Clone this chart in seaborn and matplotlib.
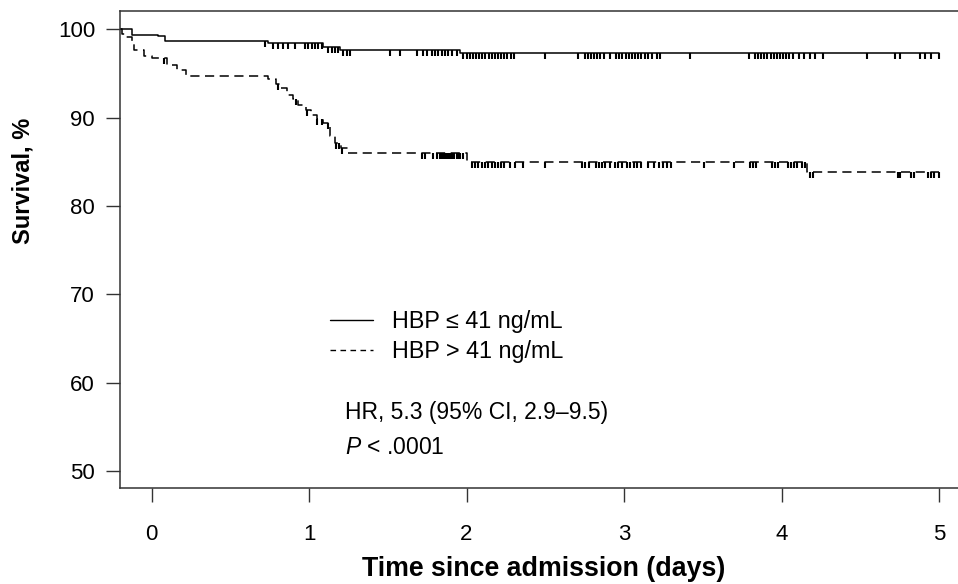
import numpy as np
import pandas as pd
import matplotlib
matplotlib.use('Agg')
import matplotlib.pyplot as plt
from matplotlib.lines import Line2D
import seaborn as sns

# Kaplan-Meier steps (time in days, survival in %)
low_time = [-0.2, -0.126, 0.043, 0.086, 0.742, 1.091, 1.197, 1.959, 5.0]
low_surv = [100, 99.4, 99.2, 98.7, 98.45, 98.0, 97.62, 97.32, 97.32]
low_censor = [0.72, 0.774, 0.805, 0.837, 0.869, 0.911, 0.975, 0.996, 1.017, 1.038,
              1.059, 1.08, 1.123, 1.144, 1.165, 1.186, 1.218, 1.239, 1.26, 1.514,
              1.578, 1.684, 1.726, 1.747, 1.779, 1.8, 1.821, 1.842, 1.863, 1.884,
              1.906, 1.938, 1.98, 2.0, 2.02, 2.04, 2.06, 2.08, 2.10, 2.12, 2.14,
              2.16, 2.18, 2.20, 2.22, 2.24, 2.26, 2.28, 2.30, 2.50, 2.71, 2.75,
              2.77, 2.79, 2.81, 2.83, 2.85, 2.87, 2.91, 2.95, 2.97, 2.99, 3.01,
              3.03, 3.05, 3.07, 3.09, 3.11, 3.13, 3.15, 3.18, 3.21, 3.23, 3.42,
              3.79, 3.83, 3.85, 3.87, 3.89, 3.91, 3.93, 3.95, 3.97, 3.99, 4.01,
              4.03, 4.05, 4.07, 4.11, 4.14, 4.18, 4.21, 4.26, 4.54, 4.72, 4.75,
              4.88, 4.91, 4.95, 5.0]

high_time = [-0.2, -0.185, -0.165, -0.125, -0.11, -0.05, 0.0, 0.10, 0.16, 0.22,
             0.74, 0.79, 0.82, 0.86, 0.90, 0.93, 0.98, 1.01, 1.05, 1.09, 1.13,
             1.165, 1.20, 1.25, 2.0, 4.16, 5.0]
high_surv = [100, 99.5, 99.1, 98.3, 97.7, 97.0, 96.7, 96.0, 95.4, 94.75,
             94.4, 93.8, 93.4, 92.6, 92.1, 91.4, 90.9, 90.3, 89.9, 89.4, 87.9,
             87.1, 86.6, 86.05, 85.0, 83.8, 83.8]
high_censor = [0.08, 0.80, 0.92, 0.99, 1.05, 1.08, 1.12, 1.17, 1.19, 1.21, 1.715,
               1.737, 1.789, 1.811, 1.83, 1.845, 1.86, 1.87, 1.88, 1.89, 1.90,
               1.91, 1.92, 1.94, 1.948, 1.959, 1.98, 2.033, 2.054, 2.075, 2.096,
               2.117, 2.138, 2.16, 2.18, 2.20, 2.22, 2.24, 2.276, 2.308, 2.36,
               2.50, 2.73, 2.75, 2.78, 2.82, 2.84, 2.86, 2.88, 2.91, 2.94, 2.96,
               2.99, 3.02, 3.04, 3.06, 3.08, 3.11, 3.15, 3.19, 3.22, 3.25, 3.27,
               3.30, 3.51, 3.70, 3.80, 3.82, 3.84, 3.94, 3.96, 3.98, 4.04, 4.06,
               4.08, 4.10, 4.13, 4.15, 4.18, 4.20, 4.74, 4.75, 4.82, 4.84, 4.93,
               4.95, 4.97, 5.0]

labels = ['HBP \u2264 41 ng/mL', 'HBP > 41 ng/mL']
x_ticks = [0, 1, 2, 3, 4, 5]
y_ticks = [50, 60, 70, 80, 90, 100]

sns.set_style('ticks')
plt.rcParams['font.family'] = ['Liberation Sans', 'DejaVu Sans']
plt.rcParams['mathtext.fontset'] = 'custom'
plt.rcParams['mathtext.rm'] = 'Liberation Sans'
plt.rcParams['mathtext.it'] = 'Liberation Sans:italic'
plt.rcParams['text.color'] = 'black'
plt.rcParams['axes.labelcolor'] = 'black'
plt.rcParams['xtick.color'] = 'black'
plt.rcParams['ytick.color'] = 'black'


def censor_y(times, surv, cens):
    idx = np.searchsorted(times, cens, side='right') - 1
    return np.asarray(surv)[idx]


fig = plt.figure(figsize=(9.58, 5.84), dpi=100)
ax = fig.add_axes([120 / 958, 96 / 584, 838 / 958, 477 / 584])

low_df = pd.DataFrame({'time': low_time, 'surv': low_surv})
high_df = pd.DataFrame({'time': high_time, 'surv': high_surv})

sns.lineplot(data=low_df, x='time', y='surv', drawstyle='steps-post', color='black',
             lw=1.1, estimator=None, sort=False, ax=ax)
sns.lineplot(data=high_df, x='time', y='surv', drawstyle='steps-post', color='black',
             lw=1.1, estimator=None, sort=False, ax=ax, linestyle=(0, (6, 3.6)))

ax.plot(low_censor, censor_y(low_time, low_surv, low_censor), ls='none',
        marker=3, ms=4.5, mew=1.5, color='black')
ax.plot(high_censor, censor_y(high_time, high_surv, high_censor), ls='none',
        marker=3, ms=4.5, mew=1.5, color='black')

ax.set_xlim(-0.2, 5.12)
ax.set_ylim(48.1, 102.07)
ax.set_xticks(x_ticks)
ax.set_yticks(y_ticks)
ax.tick_params(axis='both', length=10, width=1, color='#333333', labelsize=16)
ax.tick_params(axis='x', pad=16)
ax.tick_params(axis='y', pad=8)

for side in ['left', 'bottom', 'top']:
    ax.spines[side].set_color('#333333')
    ax.spines[side].set_linewidth(1.1)
ax.spines['right'].set_visible(False)

ax.set_xlabel('Time since admission (days)', fontsize=19.3, fontweight='bold')
ax.xaxis.set_label_coords(0.5054, -0.143)
ax.set_ylabel('Survival, %', fontsize=17, fontweight='bold')
ax.yaxis.set_label_coords(-0.1025, 0.644)

handles = [Line2D([], [], color='black', lw=1.0),
           Line2D([], [], color='black', lw=1.0, linestyle=(0, (4, 3.2)))]
ax.legend(handles, labels, loc='upper left', bbox_to_anchor=(0.2506, 0.373),
          frameon=False, fontsize=16.8, handlelength=1.85, handletextpad=0.8,
          labelspacing=0.3, borderpad=0, borderaxespad=0)

ax.text(0.2685, 0.159, 'HR, 5.3 (95% CI, 2.9\u20139.5)', transform=ax.transAxes,
        fontsize=16.5, va='center')
ax.text(0.2685, 0.084, '$P$ < .0001', transform=ax.transAxes,
        fontsize=16.5, va='center')

fig.savefig('out.png', dpi=100)
